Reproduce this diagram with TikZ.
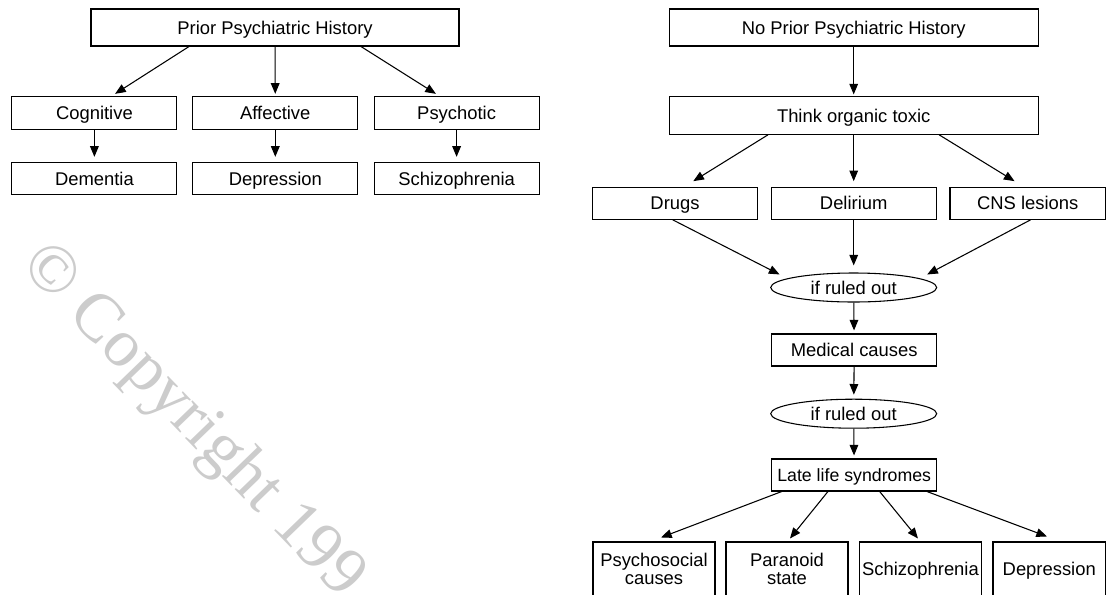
\documentclass[tikz,border=0pt]{standalone}
\usepackage{fontspec}
\setmainfont{Liberation Sans}
\newfontfamily\markfont{Liberation Serif}
\usetikzlibrary{arrows.meta, shapes.geometric}
\definecolor{markgray}{rgb}{0.8, 0.8, 0.8}

\begin{document}
\begin{tikzpicture}[x=0.75pt,y=-0.75pt]
				\tikzstyle{box} = [rectangle,draw=black,line width=0.8pt,inner sep=1pt,text height=10pt,text depth=0pt,font=\fontsize{13.8}{13.5}\selectfont]
				\tikzstyle{box2} = [rectangle,draw=black,line width=0.8pt,inner sep=1pt,align=center,font=\fontsize{13.8}{13.5}\selectfont]
				\tikzstyle{oval} = [ellipse,draw=black,line width=0.8pt,inner sep=0pt,font=\fontsize{13.8}{13.5}\selectfont]
				\tikzstyle{edge} = [-{Triangle[length=8pt,width=6.5pt]},line width=0.8pt]
				\useasboundingbox (0,0) rectangle (1107,594);
				\node[anchor=base west,rotate=-46,inner sep=0pt,text=markgray,font=\markfont\fontsize{51}{51}\selectfont] (mark) at (19,266) {© Copyright 199};
				\node[box,minimum width=276pt,minimum height=27.75pt] (prior) at (275,27.5) {Prior Psychiatric History};
				\node[box,minimum width=123.75pt,minimum height=24.2pt] (cog) at (94.4,112.9) {Cognitive};
				\node[box,minimum width=123.75pt,minimum height=24.2pt] (aff) at (275.3,112.9) {Affective};
				\node[box,minimum width=123.75pt,minimum height=24.2pt] (psy) at (456.6,112.9) {Psychotic};
				\node[box,minimum width=123.75pt,minimum height=23.7pt] (dem) at (94.4,178.5) {Dementia};
				\node[box,minimum width=123.75pt,minimum height=23.7pt] (dep) at (275.3,178.5) {Depression};
				\node[box,minimum width=123.75pt,minimum height=23.7pt] (schz) at (456.6,178.5) {Schizophrenia};
				\node[box,minimum width=276.75pt,minimum height=27.75pt] (noprior) at (853.7,27.5) {No Prior Psychiatric History};
				\node[box,minimum width=276.75pt,minimum height=28.2pt] (think) at (853.7,115.5) {Think organic toxic};
				\node[box,minimum width=123.75pt,minimum height=24pt] (drugs) at (675,203.3) {Drugs};
				\node[box,minimum width=123.75pt,minimum height=24pt] (delir) at (853.7,203.3) {Delirium};
				\node[box,minimum width=116.6pt,minimum height=24pt] (cns) at (1027.75,203.3) {CNS lesions};
				\node[oval,minimum width=124.5pt,minimum height=21.75pt] (out1) at (853.7,287.5) {if ruled out};
				\node[box,minimum width=123.75pt,minimum height=24pt] (medical) at (854.2,350) {Medical causes};
				\node[oval,minimum width=124.5pt,minimum height=21.75pt] (out2) at (853.7,413.7) {if ruled out};
				\node[box,minimum width=123.75pt,minimum height=24pt,font=\fontsize{13.3}{13.5}\selectfont] (late) at (854.2,475) {Late life syndromes};
				\node[box2,minimum width=91.5pt,minimum height=40.5pt] (psoc) at (654,569) {Psychosocial\\causes};
				\node[box2,minimum width=91.5pt,minimum height=40.5pt] (para) at (787,569) {Paranoid\\state};
				\node[box,minimum width=91.5pt,minimum height=40.5pt] (schz2) at (920.5,569) {Schizophrenia};
				\node[box,minimum width=84.4pt,minimum height=40.5pt] (depr) at (1049.25,569) {Depression};
				\draw[edge] ([xshift=-64.5pt]prior.south) -- ([xshift=15.5pt,yshift=1.8pt]cog.north);
				\draw[edge,shorten >=1.8pt] (prior) -- (aff);
				\draw[edge] ([xshift=64.5pt]prior.south) -- ([xshift=-15.5pt,yshift=1.8pt]psy.north);
				\draw[edge,shorten >=4pt] (cog) -- (dem);
				\draw[edge,shorten >=4pt] (aff) -- (dep);
				\draw[edge,shorten >=4pt] (psy) -- (schz);
				\draw[edge,shorten >=1.3pt] (noprior) -- (think);
				\draw[edge] ([xshift=-64.3pt]think.south) -- ([xshift=13.7pt,yshift=4.2pt]drugs.north);
				\draw[edge,shorten >=4.2pt] (think) -- (delir);
				\draw[edge] ([xshift=64.1pt]think.south) -- ([xshift=-9.9pt,yshift=4.2pt]cns.north);
				\draw[edge] ([xshift=-1.7pt]drugs.south) -- ([xshift=-55.6pt,yshift=-1.5pt]out1.north);
				\draw[edge,shorten >=5.25pt] (delir) -- (out1);
				\draw[edge] ([xshift=2.1pt]cns.south) -- ([xshift=55.1pt,yshift=-1.5pt]out1.north);
				\draw[edge,shorten >=2.25pt] (out1) -- (medical);
				\draw[edge,shorten >=3pt] (medical) -- (out2);
				\draw[edge,shorten >=2.25pt] (out2) -- (late);
				\draw[edge] ([xshift=-54.4pt]late.south) -- ([xshift=5.25pt,yshift=3pt]psoc.north);
				\draw[edge] ([xshift=-19.7pt]late.south) -- ([xshift=2.25pt,yshift=2.25pt]para.north);
				\draw[edge] ([xshift=19.1pt]late.south) -- ([xshift=-1.9pt,yshift=2.25pt]schz2.north);
				\draw[edge] ([xshift=54.6pt]late.south) -- ([xshift=-1.7pt,yshift=3.75pt]depr.north);
\end{tikzpicture}
\end{document}
